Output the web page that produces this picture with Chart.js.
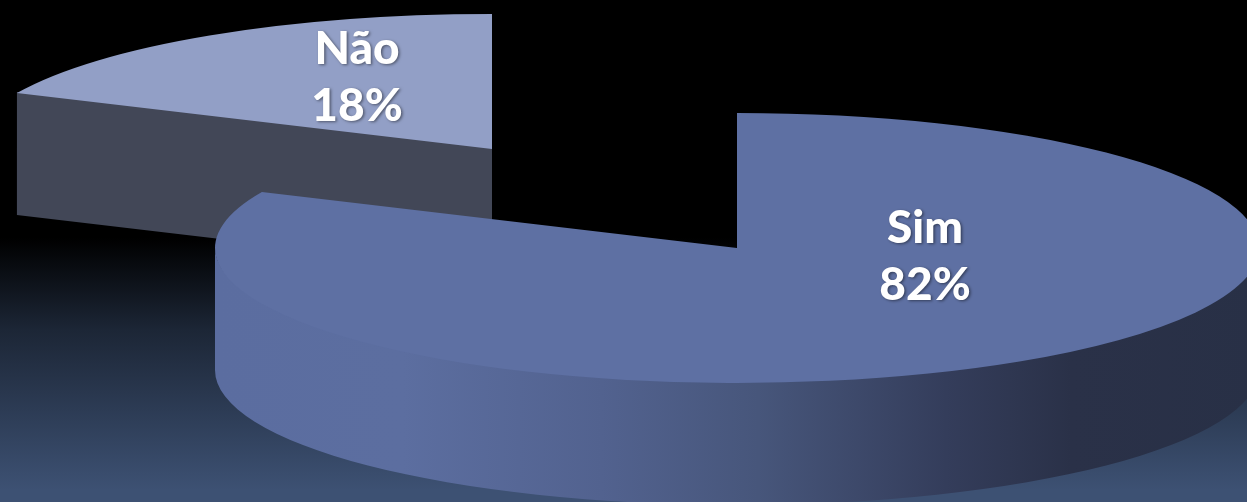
<!DOCTYPE html>
<html>
<head>
<meta charset="utf-8">
<style>
  html, body { margin: 0; padding: 0; background: #000; overflow: hidden; }
  #chart { display: block; }
</style>
<script src="https://cdn.jsdelivr.net/npm/chart.js@4"></script>
</head>
<body>
<canvas id="chart" width="1247" height="502"></canvas>
<script>
'use strict';

const categories = ['Sim', 'Não'];
const values = [81.8, 18.2];
const sliceColors = ['#5e70a3', '#929fc6'];

// how each slice is laid down on the page, same order as categories
const sliceCenters = [{ x: 737, y: 248 }, { x: 492, y: 149 }];
const labelCenters = [{ x: 925, y: 257 }, { x: 357, y: 78 }];

const RX = 522;
const RY = 135;
const DEPTH = 122;
const FLAT_WALL = '#424757';

// lit from the left, same blue as the slice top, falling off to the right
const wallStops = [
  [0.00, '#5b6da0'], [0.18, '#5c6ea0'], [0.37, '#52628f'], [0.52, '#47567b'],
  [0.70, '#343d5b'], [0.82, '#2a3148'], [1.00, '#283046']
];

const backgroundPlugin = {
  id: 'background',
  beforeDraw(chart) {
    const { ctx, width, height } = chart;
    const g = ctx.createLinearGradient(0, 0, 0, height);
    g.addColorStop(0, '#000');
    g.addColorStop(238 / height, '#000');
    g.addColorStop(330 / height, '#1c2636');
    g.addColorStop(490 / height, '#3d5173');
    g.addColorStop(1, '#3d5173');
    ctx.fillStyle = g;
    ctx.fillRect(0, 0, width, height);
  }
};

// Chart.js only does round pies, so squash its arcs and add the side walls here
const tiltedPie = {
  id: 'tiltedPie',
  beforeDatasetsDraw(chart) {
    const ctx = chart.ctx;
    const arcs = chart.getDatasetMeta(0).data;

    // back slice first so the big one sits over its wall
    [1, 0].forEach(i => {
      const arc = arcs[i];
      const c = sliceCenters[i];

      if (i === 1) {
        const ex = c.x + RX * Math.cos(arc.startAngle);
        const ey = c.y + RY * Math.sin(arc.startAngle);
        ctx.fillStyle = FLAT_WALL;
        ctx.beginPath();
        ctx.moveTo(ex, ey - 1);
        ctx.lineTo(c.x, c.y - 1);
        ctx.lineTo(c.x, c.y + DEPTH);
        ctx.lineTo(ex, ey + DEPTH);
        ctx.closePath();
        ctx.fill();
      } else {
        const g = ctx.createLinearGradient(c.x - RX, 0, c.x + RX, 0);
        wallStops.forEach(s => g.addColorStop(s[0], s[1]));
        ctx.fillStyle = g;
        ctx.beginPath();
        // top edge pulled up a pixel so no seam shows under the slice
        ctx.ellipse(c.x, c.y - 1, RX, RY, 0, 0, Math.PI);
        ctx.ellipse(c.x, c.y + DEPTH, RX, RY, 0, Math.PI, 0, true);
        ctx.closePath();
        ctx.fill();
      }

      ctx.save();
      ctx.translate(c.x, c.y);
      ctx.scale(RX / arc.outerRadius, RY / arc.outerRadius);
      ctx.translate(-arc.x, -arc.y);
      arc.draw(ctx);
      ctx.restore();
    });

    // skips the round pie
    return false;
  },
  afterDraw(chart) {
    const ctx = chart.ctx;
    ctx.save();
    ctx.fillStyle = '#fff';
    ctx.font = '900 46px Lato';
    ctx.textAlign = 'center';
    ctx.textBaseline = 'middle';
    ctx.shadowColor = 'rgba(0,0,0,0.45)';
    ctx.shadowBlur = 3;
    ctx.shadowOffsetX = 1.5;
    ctx.shadowOffsetY = 1.5;
    categories.forEach((name, i) => {
      const p = labelCenters[i];
      ctx.fillText(name, p.x, p.y - 29);
      ctx.fillText(Math.round(values[i]) + '%', p.x, p.y + 28);
    });
    ctx.restore();
  }
};

new Chart(document.getElementById('chart'), {
  type: 'pie',
  data: {
    labels: categories,
    datasets: [{
      data: values,
      backgroundColor: sliceColors,
      borderWidth: 0
    }]
  },
  options: {
    responsive: false,
    animation: false,
    plugins: {
      legend: { display: false },
      tooltip: { enabled: false }
    }
  },
  plugins: [backgroundPlugin, tiltedPie]
});
</script>
</body>
</html>
